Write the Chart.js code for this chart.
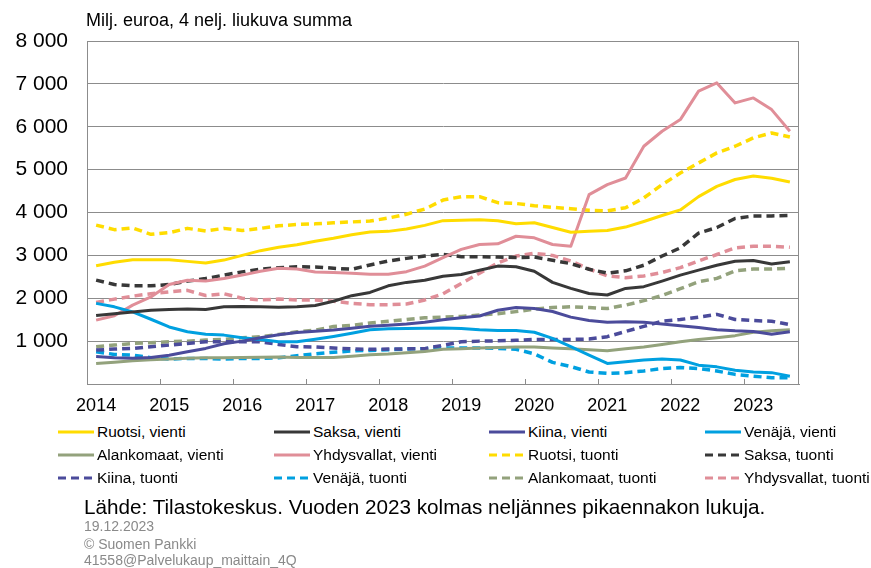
<!DOCTYPE html>
<html>
<head>
<meta charset="utf-8">
<script src="https://cdn.jsdelivr.net/npm/chart.js@4.4.0/dist/chart.umd.min.js"></script>
<style>
  html, body { margin: 0; padding: 0; background: #fff; }
  body { width: 871px; height: 568px; position: relative; overflow: hidden;
         font-family: "Liberation Sans", Arial, sans-serif; color: #000; }
  #grafico { position: absolute; left: 0; top: 0; }
  .otsikko { position: absolute; left: 86px; top: 10px; font-size: 18px; white-space: nowrap; }
  #selite { position: absolute; left: 58px; top: 420px; display: grid;
            grid-template-columns: 216px 215px 216px 160px; grid-auto-rows: 23px; }
  .kohta { display: flex; align-items: center; font-size: 15.5px; white-space: nowrap; }
  .kohta canvas { margin-right: 3px; }
  .lahde { position: absolute; left: 84px; top: 495px; font-size: 20.7px; white-space: nowrap; }
  .pieni { position: absolute; left: 84px; font-size: 14px; line-height: 15px; color: #8a8a8a; white-space: nowrap; }
</style>
</head>
<body>
<canvas id="grafico" width="871" height="420"></canvas>
<div class="otsikko">Milj. euroa, 4 nelj. liukuva summa</div>
<div id="selite"></div>
<div class="lahde">Lähde: Tilastokeskus. Vuoden 2023 kolmas neljännes pikaennakon lukuja.</div>
<div class="pieni" style="top:519px">19.12.2023</div>
<div class="pieni" style="top:537px">© Suomen Pankki</div>
<div class="pieni" style="top:553px">41558@Palvelukaup_maittain_4Q</div>

<script>
/* ===================== DATA (neljännekset 2014Q1–2023Q3) ===================== */

const VUODET = ["2014", "2015", "2016", "2017", "2018", "2019", "2020", "2021", "2022", "2023"];

const ruotsiVienti = [2760, 2840, 2900, 2900, 2900, 2860, 2820, 2890, 3000, 3110, 3190, 3250, 3330,
  3400, 3480, 3545, 3560, 3615, 3700, 3810, 3820, 3830, 3810, 3740, 3760, 3650,
  3540, 3560, 3580, 3660, 3790, 3930, 4060, 4370, 4610, 4770, 4850, 4800, 4710];
const saksaVienti = [1600, 1640, 1680, 1720, 1740, 1750, 1740, 1800, 1810, 1800, 1790, 1800, 1830,
  1930, 2060, 2135, 2290, 2370, 2420, 2515, 2555, 2655, 2750, 2735, 2630, 2370,
  2230, 2110, 2075, 2230, 2270, 2400, 2540, 2655, 2770, 2865, 2880, 2800, 2850];
const kiinaVienti = [640, 615, 600, 620, 670, 750, 830, 940, 1000, 1080, 1150, 1200, 1230,
  1260, 1300, 1345, 1370, 1400, 1440, 1500, 1545, 1585, 1720, 1785, 1760, 1690,
  1560, 1480, 1440, 1450, 1440, 1400, 1360, 1320, 1265, 1240, 1225, 1160, 1220];
const venajaVienti = [1880, 1800, 1680, 1510, 1330, 1220, 1160, 1140, 1080, 1040, 985, 985, 1045,
  1110, 1184, 1264, 1288, 1295, 1300, 1304, 1295, 1264, 1250, 1250, 1208, 1064,
  870, 674, 480, 520, 560, 583, 560, 440, 400, 320, 280, 265, 180];
const alankomaatVienti = [480, 510, 540, 565, 585, 600, 610, 615, 620, 625, 630, 620, 620,
  620, 650, 680, 700, 730, 760, 808, 825, 840, 852, 864, 862, 840,
  824, 800, 776, 824, 864, 920, 984, 1040, 1080, 1128, 1208, 1240, 1264];
const yhdysvallatVienti = [1490, 1590, 1840, 2030, 2320, 2420, 2400, 2460, 2540, 2630, 2700, 2680, 2610,
  2600, 2585, 2560, 2560, 2620, 2750, 2946, 3140, 3254, 3270, 3446, 3410, 3254,
  3215, 4416, 4650, 4805, 5545, 5895, 6167, 6830, 7023, 6556, 6673, 6400, 5895];

const ruotsiTuonti = [3705, 3600, 3640, 3490, 3530, 3630, 3570, 3630, 3580, 3630, 3690, 3720, 3735,
  3760, 3780, 3800, 3870, 3960, 4080, 4290, 4370, 4370, 4230, 4210, 4160, 4120,
  4090, 4050, 4040, 4110, 4340, 4650, 4920, 5155, 5390, 5545, 5740, 5856, 5760];
const saksaTuonti = [2423, 2320, 2290, 2290, 2320, 2400, 2460, 2540, 2615, 2680, 2710, 2733, 2730,
  2700, 2677, 2777, 2870, 2930, 2985, 3023, 2970, 2970, 2960, 2950, 2960, 2885,
  2808, 2677, 2585, 2640, 2770, 2985, 3175, 3520, 3650, 3860, 3920, 3920, 3930];
const kiinaTuonti = [791, 815, 830, 870, 907, 946, 985, 985, 985, 985, 923, 870, 864,
  840, 820, 808, 815, 820, 824, 904, 984, 1000, 1008, 1020, 1040, 1040,
  1040, 1048, 1104, 1224, 1344, 1464, 1504, 1560, 1624, 1504, 1480, 1464, 1384];
const venajaTuonti = [752, 690, 674, 612, 581, 597, 597, 581, 597, 597, 612, 660, 704,
  740, 770, 784, 800, 815, 824, 840, 840, 840, 830, 808, 704, 504,
  408, 280, 248, 264, 304, 360, 384, 360, 304, 224, 184, 144, 144];
const alankomaatTuonti = [868, 907, 946, 962, 985, 1000, 1024, 1040, 1078, 1100, 1156, 1218, 1257,
  1340, 1368, 1424, 1464, 1504, 1544, 1560, 1576, 1608, 1640, 1688, 1744, 1784,
  1800, 1784, 1760, 1840, 1944, 2064, 2224, 2384, 2464, 2640, 2680, 2680, 2700];
const yhdysvallatTuonti = [1900, 1980, 2050, 2104, 2150, 2184, 2064, 2104, 2000, 1960, 1980, 1960, 1960,
  1930, 1880, 1850, 1850, 1864, 1960, 2104, 2344, 2584, 2824, 2984, 3048, 3000,
  2870, 2680, 2520, 2480, 2520, 2600, 2715, 2870, 3020, 3175, 3215, 3215, 3190];

/* ===================== SARJAT ===================== */

const VARIT = {
  ruotsi: "#FFDC00",
  saksa: "#383838",
  kiina: "#4B4B9B",
  venaja: "#00A0E0",
  alankomaat: "#93A27C",
  yhdysvallat: "#E08E98"
};

// järjestys = selitteen järjestys (rivi kerrallaan, 4 saraketta)
const sarjat = [
  { nimi: "Ruotsi, vienti", data: ruotsiVienti, vari: VARIT.ruotsi, katko: false },
  { nimi: "Saksa, vienti", data: saksaVienti, vari: VARIT.saksa, katko: false },
  { nimi: "Kiina, vienti", data: kiinaVienti, vari: VARIT.kiina, katko: false },
  { nimi: "Venäjä, vienti", data: venajaVienti, vari: VARIT.venaja, katko: false },
  { nimi: "Alankomaat, vienti", data: alankomaatVienti, vari: VARIT.alankomaat, katko: false },
  { nimi: "Yhdysvallat, vienti", data: yhdysvallatVienti, vari: VARIT.yhdysvallat, katko: false },
  { nimi: "Ruotsi, tuonti", data: ruotsiTuonti, vari: VARIT.ruotsi, katko: true },
  { nimi: "Saksa, tuonti", data: saksaTuonti, vari: VARIT.saksa, katko: true },
  { nimi: "Kiina, tuonti", data: kiinaTuonti, vari: VARIT.kiina, katko: true },
  { nimi: "Venäjä, tuonti", data: venajaTuonti, vari: VARIT.venaja, katko: true },
  { nimi: "Alankomaat, tuonti", data: alankomaatTuonti, vari: VARIT.alankomaat, katko: true },
  { nimi: "Yhdysvallat, tuonti", data: yhdysvallatTuonti, vari: VARIT.yhdysvallat, katko: true }
];

const KATKO = [8, 5];
const HARMAA = "#8c8c8c";

const neljannekset = VUODET.flatMap(v => ["Q1", "Q2", "Q3", "Q4"].map(q => v + q))
  .slice(0, ruotsiVienti.length);

/* ===================== LISÄOSAT ===================== */

// kehys + lyhyet sisäänpäin osoittavat jakoviivat vuosien rajoilla
const kehys = {
  id: "kehys",
  beforeDatasetsDraw(chart) {
    const { ctx, chartArea: a, scales: { x } } = chart;
    ctx.save();
    ctx.strokeStyle = HARMAA;
    ctx.lineWidth = 1;
    ctx.strokeRect(a.left + 0.5, a.top + 0.5, a.right - a.left - 1, a.bottom - a.top);
    ctx.beginPath();
    for (let k = 4; k < neljannekset.length; k += 4) {
      const px = Math.round((x.getPixelForValue(k - 1) + x.getPixelForValue(k)) / 2) + 0.5;
      ctx.moveTo(px, a.bottom);
      ctx.lineTo(px, a.bottom - 5);
    }
    ctx.stroke();
    ctx.restore();
  }
};

/* ===================== KAAVIO ===================== */

new Chart(document.getElementById("grafico"), {
  type: "line",
  data: {
    labels: neljannekset,
    datasets: sarjat.map(s => ({
      label: s.nimi,
      data: s.data,
      borderColor: s.vari,
      backgroundColor: s.vari,
      borderWidth: s.katko ? 3.5 : 3,
      borderDash: s.katko ? KATKO : [],
      borderJoinStyle: "round",
      pointRadius: 0,
      tension: 0,
      fill: false
    }))
  },
  options: {
    responsive: false,
    animation: false,
    layout: { padding: { top: 41, right: 72, left: 0, bottom: 0 } },
    plugins: { legend: { display: false }, tooltip: { enabled: false } },
    scales: {
      x: {
        type: "category",
        offset: true,
        grid: { display: false, drawTicks: false },
        border: { display: true, color: HARMAA, width: 1 },
        afterFit: s => { s.height = 36; },
        ticks: {
          autoSkip: false,
          maxRotation: 0,
          padding: 11,
          color: "#000",
          font: { family: "Liberation Sans", size: 18 },
          callback: (v, i) => (i % 4 === 0 ? neljannekset[i].slice(0, 4) : "")
        }
      },
      y: {
        min: 0,
        max: 8000,
        grid: { color: HARMAA, lineWidth: 1, drawTicks: false },
        border: { display: true, color: HARMAA, width: 1 },
        afterFit: s => { s.width = 87; },
        ticks: {
          stepSize: 1000,
          padding: 19,
          color: "#000",
          font: { family: "Liberation Sans", size: 21 },
          callback: v => (v === 0 ? "" : String(v).replace(/\B(?=(\d{3})+(?!\d))/g, " "))
        }
      }
    }
  },
  plugins: [kehys]
});

/* ===================== SELITE ===================== */

const selite = document.getElementById("selite");
sarjat.forEach(s => {
  const kohta = document.createElement("div");
  kohta.className = "kohta";
  const c = document.createElement("canvas");
  c.width = 36; c.height = 8;
  const g = c.getContext("2d");
  g.strokeStyle = s.vari;
  g.lineWidth = 3;
  g.setLineDash(s.katko ? KATKO : []);
  g.beginPath(); g.moveTo(0, 4); g.lineTo(36, 4); g.stroke();
  const t = document.createElement("span");
  t.textContent = s.nimi;
  kohta.append(c, t);
  selite.appendChild(kohta);
});
</script>
</body>
</html>
